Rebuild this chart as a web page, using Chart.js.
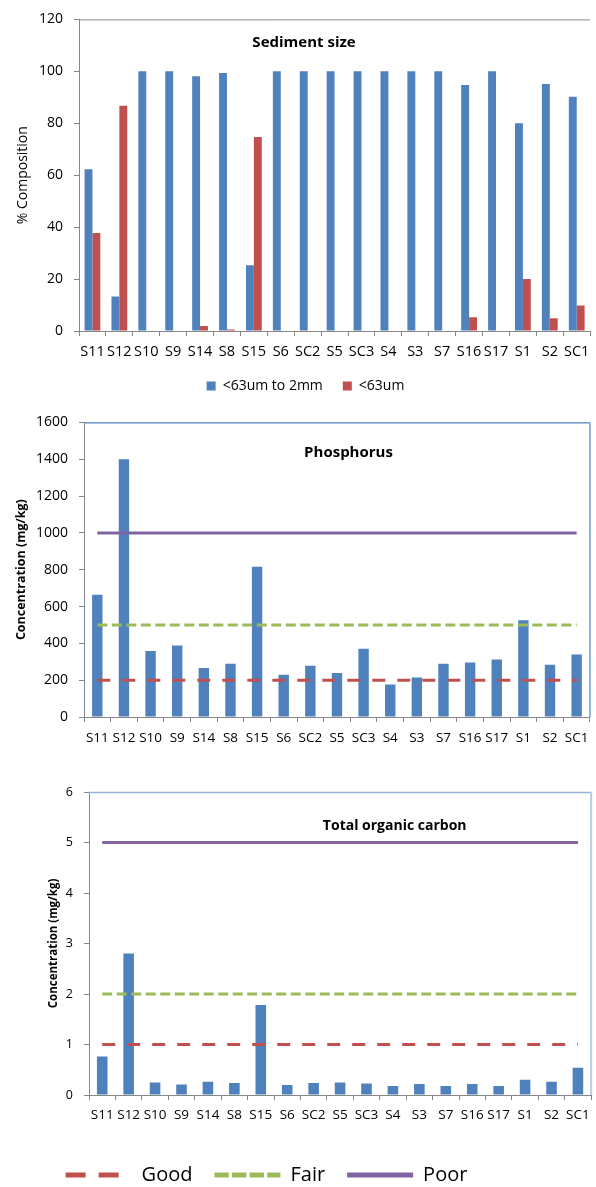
<!DOCTYPE html>
<html>
<head>
<meta charset="utf-8">
<script src="https://cdn.jsdelivr.net/npm/chart.js@4.4.1/dist/chart.umd.min.js"></script>
<style>
  html, body { margin: 0; padding: 0; background: #fff; overflow: hidden; width: 596px; height: 1187px; }
  canvas { position: absolute; left: 0; }
</style>
</head>
<body>
<canvas id="sediment" width="597" height="403" style="top:0"></canvas>
<canvas id="phosphorus" width="597" height="357" style="top:403px"></canvas>
<canvas id="carbon" width="597" height="435" style="top:760px"></canvas>
<script>
// Sampling sites, in survey order
const sites = ['S11','S12','S10','S9','S14','S8','S15','S6','SC2','S5','SC3','S4','S3','S7','S16','S17','S1','S2','SC1'];

// Sediment size split (% composition)
const coarseShare = [62.3, 13.3, 100, 100, 98.1, 99.4, 25.3, 100, 100, 100, 100, 100, 100, 100, 94.7, 100, 80.0, 95.1, 90.2];
const fineShare   = [37.7, 86.7, 0, 0, 1.9, 0.6, 74.7, 0, 0, 0, 0, 0, 0, 0, 5.3, 0, 20.0, 4.9, 9.8];

// Phosphorus concentration (mg/kg)
const phosphorus = [664, 1400, 359, 389, 266, 289, 816, 230, 278, 239, 370, 176, 214, 289, 296, 312, 526, 284, 339];

// Total organic carbon (mg/kg)
const organicCarbon = [0.76, 2.8, 0.25, 0.21, 0.26, 0.24, 1.78, 0.20, 0.24, 0.25, 0.23, 0.18, 0.22, 0.18, 0.22, 0.18, 0.30, 0.26, 0.54];

// Condition guideline levels
const guideNames = ['Good', 'Fair', 'Poor'];
const phosphorusGuides = [200, 500, 1000];
const carbonGuides = [1, 2, 5];

const FONT = "'Open Sans', sans-serif";
Chart.defaults.font.family = FONT;
Chart.defaults.color = '#000';
Chart.defaults.animation = false;

const AXIS = '#868686';
const BLUE = '#4F81BD';
const RED = '#C0504D';
const guideColors = ['#C0504D', '#9BBB59', '#8064A2'];
const guideDash = [[13, 12], [10, 4.5], []];
const legendDash = [[20, 13], [14.3, 3.3], []];

// Plot frame lines and the heading drawn inside the plot
const framePlugin = {
  id: 'frame',
  afterDraw(chart, args, o) {
    const { ctx, chartArea: a } = chart;
    ctx.save();
    if (o.top) {
      ctx.strokeStyle = o.top.color; ctx.lineWidth = o.top.width;
      ctx.beginPath(); ctx.moveTo(a.left, a.top + 0.5); ctx.lineTo(a.right, a.top + 0.5); ctx.stroke();
    }
    if (o.right) {
      ctx.strokeStyle = o.right.color; ctx.lineWidth = o.right.width;
      ctx.beginPath(); ctx.moveTo(a.right, a.top); ctx.lineTo(a.right, a.bottom); ctx.stroke();
    }
    if (o.heading) {
      ctx.fillStyle = '#000';
      ctx.font = 'bold ' + o.heading.size + 'px ' + FONT;
      ctx.textAlign = 'center'; ctx.textBaseline = 'middle';
      ctx.fillText(o.heading.text, o.heading.x, o.heading.y);
    }
    ctx.restore();
  }
};

// Horizontal nudge for the legend row
const legendShiftPlugin = {
  id: 'legendShift',
  afterLayout(chart, args, o) {
    const lg = chart.legend;
    if (lg && o.dx) { lg.left += o.dx; lg.right += o.dx; }
  }
};

function xAxis(size, pad, height) {
  return {
    grid: { drawOnChartArea: false, drawTicks: true, tickLength: 5, color: AXIS },
    border: { display: true, color: AXIS, width: 1 },
    ticks: { color: '#000', font: { size }, padding: pad, maxRotation: 0, autoSkip: false },
    afterFit(s) { s.height = height; }
  };
}

function yAxis(max, step, size, title, width) {
  return {
    min: 0, max,
    grid: { drawOnChartArea: false, drawTicks: true, tickLength: 5, color: AXIS },
    border: { display: true, color: AXIS, width: 1 },
    ticks: { stepSize: step, color: '#000', font: { size }, padding: 11, callback: v => String(v) },
    title: Object.assign({ display: true, color: '#000' }, title),
    afterFit(s) { s.width = width; }
  };
}

function guideSets(levels) {
  return guideNames.map((name, i) => ({
    type: 'line',
    label: name,
    data: sites.map(() => levels[i]),
    borderColor: guideColors[i],
    backgroundColor: guideColors[i],
    borderWidth: 3,
    borderDash: guideDash[i],
    borderCapStyle: 'butt',
    pointRadius: 0,
    pointHoverRadius: 0,
    fill: false,
    tension: 0,
    order: 0
  }));
}

// Sediment size
new Chart(document.getElementById('sediment'), {
  type: 'bar',
  data: {
    labels: sites,
    datasets: [
      { label: '<63um to 2mm', data: coarseShare, backgroundColor: BLUE, categoryPercentage: 0.587, barPercentage: 1 },
      { label: '<63um', data: fineShare, backgroundColor: RED, categoryPercentage: 0.587, barPercentage: 1 }
    ]
  },
  options: {
    responsive: false,
    layout: { padding: { top: 15, left: 0, right: 0, bottom: 0 } },
    scales: {
      x: xAxis(14.5, 7.6, 28),
      y: yAxis(120, 20, 14, { text: '% Composition', font: { size: 14 }, padding: { top: 14.6, bottom: 0 } }, 79)
    },
    plugins: {
      legend: {
        position: 'bottom',
        labels: { boxWidth: 9, boxHeight: 9, padding: 20, font: { size: 14 }, color: '#000' }
      },
      tooltip: { enabled: false },
      legendShift: { dx: 7 },
      frame: { top: { color: AXIS, width: 1 }, heading: { text: 'Sediment size', x: 304, y: 43, size: 15 } }
    }
  },
  plugins: [framePlugin, legendShiftPlugin]
});

// Phosphorus
new Chart(document.getElementById('phosphorus'), {
  type: 'bar',
  data: {
    labels: sites,
    datasets: [
      { label: 'Phosphorus', data: phosphorus, backgroundColor: BLUE, categoryPercentage: 0.39, barPercentage: 1, order: 1 },
      ...guideSets(phosphorusGuides)
    ]
  },
  options: {
    responsive: false,
    layout: { padding: { top: 16, left: 0, right: 2, bottom: 0 } },
    scales: {
      x: xAxis(13.5, 8.5, 43),
      y: yAxis(1600, 200, 14, { text: 'Concentration (mg/kg)', font: { size: 12.5, weight: 'bold' }, padding: { top: 13.5, bottom: 0 } }, 84)
    },
    plugins: {
      legend: { display: false },
      tooltip: { enabled: false },
      frame: { top: { color: BLUE, width: 1.2 }, right: { color: '#95B3D7', width: 2 }, heading: { text: 'Phosphorus', x: 348.5, y: 50, size: 15 } }
    }
  },
  plugins: [framePlugin]
});

// Total organic carbon, with the shared guideline legend
new Chart(document.getElementById('carbon'), {
  type: 'bar',
  data: {
    labels: sites,
    datasets: [
      { label: 'Total organic carbon', data: organicCarbon, backgroundColor: BLUE, categoryPercentage: 0.4, barPercentage: 1, order: 1 },
      ...guideSets(carbonGuides)
    ]
  },
  options: {
    responsive: false,
    layout: { padding: { top: 32, left: 0, right: 2, bottom: 0 } },
    scales: {
      x: xAxis(13.5, 7.2, 48),
      y: yAxis(6, 1, 12.5, { text: 'Concentration (mg/kg)', font: { size: 11.5, weight: 'bold' }, padding: { top: 47.3, bottom: 0 } }, 89)
    },
    plugins: {
      legend: {
        position: 'bottom',
        labels: {
          usePointStyle: true,
          pointStyle: 'line',
          pointStyleWidth: 66,
          padding: 22,
          font: { size: 20 },
          color: '#000',
          generateLabels(chart) {
            const items = Chart.defaults.plugins.legend.labels.generateLabels(chart);
            return items
              .filter(it => it.datasetIndex > 0)
              .map(it => {
                const k = it.datasetIndex - 1;
                return Object.assign(it, { lineWidth: 5, lineDash: legendDash[k], lineCap: 'butt', strokeStyle: guideColors[k], pointStyle: 'line' });
              });
          }
        }
      },
      tooltip: { enabled: false },
      legendShift: { dx: -31 },
      frame: { top: { color: '#95B3D7', width: 1.5 }, right: { color: '#B9CDE5', width: 2 }, heading: { text: 'Total organic carbon', x: 394.7, y: 65.7, size: 14 } }
    }
  },
  plugins: [framePlugin, legendShiftPlugin]
});
</script>
</body>
</html>
